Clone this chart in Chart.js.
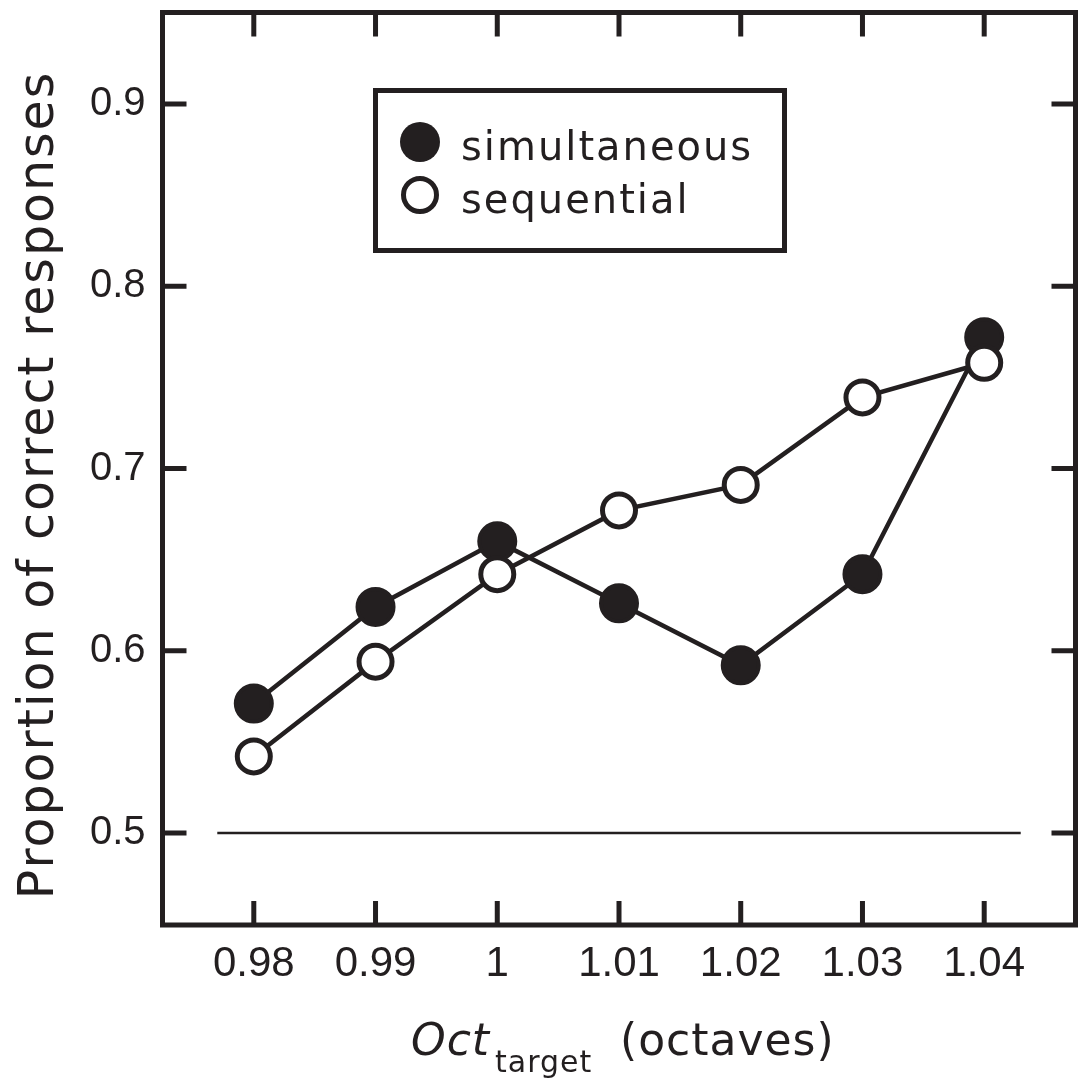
<!DOCTYPE html>
<html>
<head>
<meta charset="utf-8">
<script src="https://cdn.jsdelivr.net/npm/chart.js@4"></script>
<style>
  body { margin: 0; background: #fff; }
  canvas { display: block; }
</style>
</head>
<body>
<canvas id="chart" width="1081" height="1082"></canvas>
<script>
// Data
const octTarget = [0.98, 0.99, 1.00, 1.01, 1.02, 1.03, 1.04];
const simultaneous = [0.571, 0.624, 0.660, 0.626, 0.592, 0.642, 0.772];
const sequential = [0.542, 0.594, 0.642, 0.677, 0.691, 0.739, 0.758];
const seriesNames = ["simultaneous", "sequential"];

// Axis ticks
const xTicks = [0.98, 0.99, 1.00, 1.01, 1.02, 1.03, 1.04];
const xTickLabels = ["0.98", "0.99", "1", "1.01", "1.02", "1.03", "1.04"];
const yTicks = [0.5, 0.6, 0.7, 0.8, 0.9];
const yTickLabels = ["0.5", "0.6", "0.7", "0.8", "0.9"];

// Chance level line
const chanceLevel = 0.5;
const chanceSpan = [0.977, 1.043];

const ink = "#231f20";

const toPoints = (xs, ys) => xs.map((x, i) => ({ x: x, y: ys[i] }));

// no extra label padding, the frame sits where the original one is
function noPadding(s) {
  s.paddingTop = 0;
  s.paddingBottom = 0;
  s.paddingLeft = 0;
  s.paddingRight = 0;
}

// Frame with inward ticks, legend box and axis titles
const decorations = {
  id: "decorations",
  afterDraw(chart) {
    const { ctx, chartArea: a, scales } = chart;
    const xs = scales.x, ys = scales.y;
    const tick = 24;
    ctx.save();
    ctx.strokeStyle = ink;
    ctx.lineWidth = 5;
    ctx.lineCap = "butt";
    ctx.strokeRect(a.left, a.top, a.right - a.left, a.bottom - a.top);

    ctx.beginPath();
    xTicks.forEach(v => {
      const px = xs.getPixelForValue(v);
      ctx.moveTo(px, a.bottom); ctx.lineTo(px, a.bottom - tick);
      ctx.moveTo(px, a.top); ctx.lineTo(px, a.top + tick);
    });
    yTicks.forEach(v => {
      const py = ys.getPixelForValue(v);
      ctx.moveTo(a.left, py); ctx.lineTo(a.left + tick, py);
      ctx.moveTo(a.right, py); ctx.lineTo(a.right - tick, py);
    });
    ctx.stroke();

    // legend
    ctx.lineWidth = 5;
    ctx.strokeRect(375.5, 90.5, 409, 160);
    const rows = [142, 195];
    ctx.font = "40px 'DejaVu Sans'";
    ctx.letterSpacing = "2px";
    ctx.textBaseline = "alphabetic";
    ctx.fillStyle = ink;
    seriesNames.forEach((name, i) => {
      ctx.beginPath();
      if (i === 0) {
        ctx.arc(420, rows[i], 20, 0, Math.PI * 2);
        ctx.fillStyle = ink;
        ctx.fill();
      } else {
        ctx.arc(420, rows[i], 16.5, 0, Math.PI * 2);
        ctx.fillStyle = "#fff";
        ctx.fill();
        ctx.lineWidth = 5;
        ctx.stroke();
      }
      ctx.fillStyle = ink;
      ctx.fillText(name, 461, rows[i] + 18);
    });

    // x title with subscript
    ctx.fillStyle = ink;
    ctx.textAlign = "left";
    ctx.letterSpacing = "1px";
    ctx.font = "oblique 44px 'DejaVu Sans'";
    ctx.fillText("Oct", 411, 1055);
    const octW = ctx.measureText("Oct").width;
    ctx.font = "30px 'DejaVu Sans'";
    ctx.fillText("target", 411 + octW + 5, 1072);
    ctx.font = "44px 'DejaVu Sans'";
    ctx.fillText("(octaves)", 620, 1055);

    // y title
    ctx.translate(53, 485);
    ctx.rotate(-Math.PI / 2);
    ctx.textAlign = "center";
    ctx.letterSpacing = "2px";
    ctx.font = "49px 'DejaVu Sans'";
    ctx.fillText("Proportion of correct responses", 0, 0);
    ctx.restore();
  }
};

new Chart(document.getElementById("chart"), {
  type: "line",
  data: {
    datasets: [
      {
        label: seriesNames[1],
        data: toPoints(octTarget, sequential),
        borderColor: ink,
        borderWidth: 4.5,
        pointRadius: 16.5,
        pointBorderWidth: 5,
        pointBackgroundColor: "#fff",
        pointBorderColor: ink,
        order: 0,
        clip: false
      },
      {
        label: seriesNames[0],
        data: toPoints(octTarget, simultaneous),
        borderColor: ink,
        borderWidth: 4.5,
        pointRadius: 18,
        pointBorderWidth: 4,
        pointBackgroundColor: ink,
        pointBorderColor: ink,
        order: 1,
        clip: false
      },
      {
        label: "chance",
        data: chanceSpan.map(x => ({ x: x, y: chanceLevel })),
        borderColor: ink,
        borderWidth: 2.5,
        pointRadius: 0,
        order: 2
      }
    ]
  },
  options: {
    responsive: false,
    animation: false,
    layout: { autoPadding: false, padding: { top: 12.5, right: 5.5, left: 0, bottom: 0 } },
    plugins: { legend: { display: false }, tooltip: { enabled: false } },
    scales: {
      x: {
        type: "linear",
        min: 0.9725,
        max: 1.0475,
        grid: { display: false, drawTicks: false },
        border: { display: false },
        afterBuildTicks: s => { s.ticks = xTicks.map(v => ({ value: v })); },
        afterFit: s => { s.height = 157; noPadding(s); },
        ticks: {
          autoSkip: false,
          maxRotation: 0,
          padding: 14,
          color: ink,
          font: { family: "'Liberation Sans'", size: 42 },
          callback: v => xTickLabels[xTicks.findIndex(t => Math.abs(t - v) < 1e-6)]
        }
      },
      y: {
        min: 0.4495,
        max: 0.9502,
        grid: { display: false, drawTicks: false },
        border: { display: false },
        afterBuildTicks: s => { s.ticks = yTicks.map(v => ({ value: v })); },
        afterFit: s => { s.width = 162.5; noPadding(s); },
        ticks: {
          autoSkip: false,
          padding: 17,
          color: ink,
          font: { family: "'Liberation Sans'", size: 40 },
          callback: v => yTickLabels[yTicks.findIndex(t => Math.abs(t - v) < 1e-6)]
        }
      }
    }
  },
  plugins: [decorations]
});
</script>
</body>
</html>
